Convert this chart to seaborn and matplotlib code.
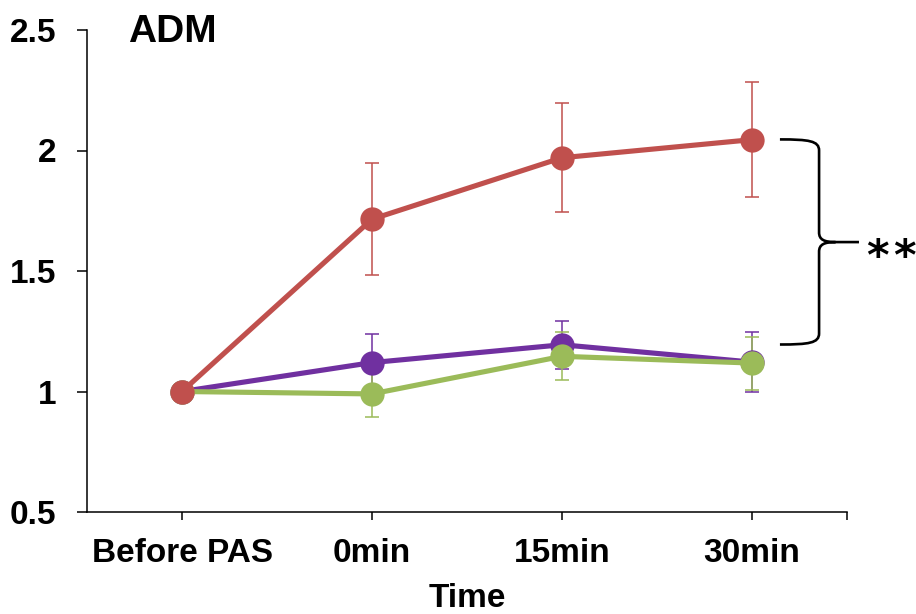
import matplotlib
matplotlib.use("Agg")
import matplotlib.pyplot as plt
from matplotlib.path import Path
from matplotlib.patches import PathPatch
import numpy as np
import pandas as pd
import seaborn as sns

# --- data -------------------------------------------------------------
time_labels = ["Before PAS", "0min", "15min", "30min"]
y_tick_values = [0.5, 1, 1.5, 2, 2.5]
y_tick_labels = ["0.5", "1", "1.5", "2", "2.5"]

series_names = ["Group B", "Group C", "Group A"]   # drawing order
red_mean = [1.0, 1.715, 1.970, 2.045]
red_err = [0.0, 0.232, 0.226, 0.240]
purple_mean = [1.0, 1.120, 1.194, 1.122]
purple_err = [0.0, 0.120, 0.100, 0.124]
green_mean = [1.0, 0.990, 1.146, 1.118]
green_err = [0.0, 0.094, 0.100, 0.110]

colors = {"Group A": "#C0504D", "Group B": "#7030A0", "Group C": "#9BBB59"}
means = {"Group A": red_mean, "Group B": purple_mean, "Group C": green_mean}
errs = {"Group A": red_err, "Group B": purple_err, "Group C": green_err}

rows = []
for name in series_names:
    for i, (m, e) in enumerate(zip(means[name], errs[name])):
        rows.append({"pos": i, "time": time_labels[i], "value": m, "err": e, "group": name})
df = pd.DataFrame(rows)

# --- figure -----------------------------------------------------------
sns.set_theme(style="white")
plt.rcParams["font.family"] = ["Liberation Sans", "DejaVu Sans"]
plt.rcParams["text.color"] = "black"
plt.rcParams["axes.labelcolor"] = "black"

fig = plt.figure(figsize=(9.16, 6.14), dpi=100)
ax = fig.add_axes([87 / 916, 1 - 512 / 614, (847 - 87) / 916, (512 - 30) / 614])

# error bars underneath the lines
for name in series_names:
    sub = df[df["group"] == name]
    ax.errorbar(sub["pos"], sub["value"], yerr=sub["err"], fmt="none",
                ecolor=colors[name], elinewidth=1.1, capsize=4.8, capthick=1.1,
                zorder=1)

sns.lineplot(data=df, x="pos", y="value", hue="group", hue_order=series_names,
             palette=colors, marker="o", markersize=17.5, markeredgewidth=0,
             linewidth=3.7, legend=False, ax=ax, zorder=3)

ax.set_xlim(-0.5, 3.5)
ax.set_ylim(0.5, 2.5)

ax.set_xticks(list(range(len(time_labels))) + [3.5])
ax.set_xticklabels(time_labels + [""])
ax.set_yticks(y_tick_values)
ax.set_yticklabels(y_tick_labels)

for lab in ax.get_xticklabels() + ax.get_yticklabels():
    lab.set_fontweight("bold")
    lab.set_fontsize(24)
    lab.set_color("black")

ax.tick_params(axis="x", direction="out", length=6, width=1.1, color="black", pad=13)
ax.tick_params(axis="y", direction="out", length=7, width=1.1, color="black", pad=15)
ax.tick_params(left=True, bottom=True)

for side in ["top", "right"]:
    ax.spines[side].set_visible(False)
for side in ["left", "bottom"]:
    ax.spines[side].set_color("black")
    ax.spines[side].set_linewidth(1.1)

ax.set_xlabel("Time", fontsize=24, fontweight="bold", labelpad=10, color="black")
ax.set_ylabel("")

ax.text(0.054, 0.995, "ADM", transform=ax.transAxes, fontsize=28,
        fontweight="bold", ha="left", va="center", color="black")

# significance brace
x0, xv, xt, xe = 3.147, 3.353, 3.44, 3.563
ytop, ymid, ybot = 2.046, 1.620, 1.195
verts = [
    (x0, ytop), (3.30, ytop), (xv, ytop - 0.006), (xv, ytop - 0.046),
    (xv, ymid + 0.04),
    (xv, ymid + 0.01), (3.38, ymid), (xt, ymid),
    (xe, ymid),
    (xt, ymid),
    (3.38, ymid), (xv, ymid - 0.01), (xv, ymid - 0.04),
    (xv, ybot + 0.046),
    (xv, ybot + 0.006), (3.30, ybot), (x0, ybot),
]
codes = [
    Path.MOVETO, Path.CURVE4, Path.CURVE4, Path.CURVE4,
    Path.LINETO,
    Path.CURVE4, Path.CURVE4, Path.CURVE4,
    Path.LINETO,
    Path.MOVETO,
    Path.CURVE4, Path.CURVE4, Path.CURVE4,
    Path.LINETO,
    Path.CURVE4, Path.CURVE4, Path.CURVE4,
]
brace = PathPatch(Path(verts, codes), facecolor="none", edgecolor="black",
                  linewidth=1.9, clip_on=False, zorder=4)
ax.add_patch(brace)
for xs in (3.66, 3.80):
    ax.text(xs, 1.505, "*", fontsize=31, ha="center", va="baseline",
            family=["DejaVu Sans"], fontweight="bold", color="black", clip_on=False)

fig.savefig("out.png", dpi=100)
